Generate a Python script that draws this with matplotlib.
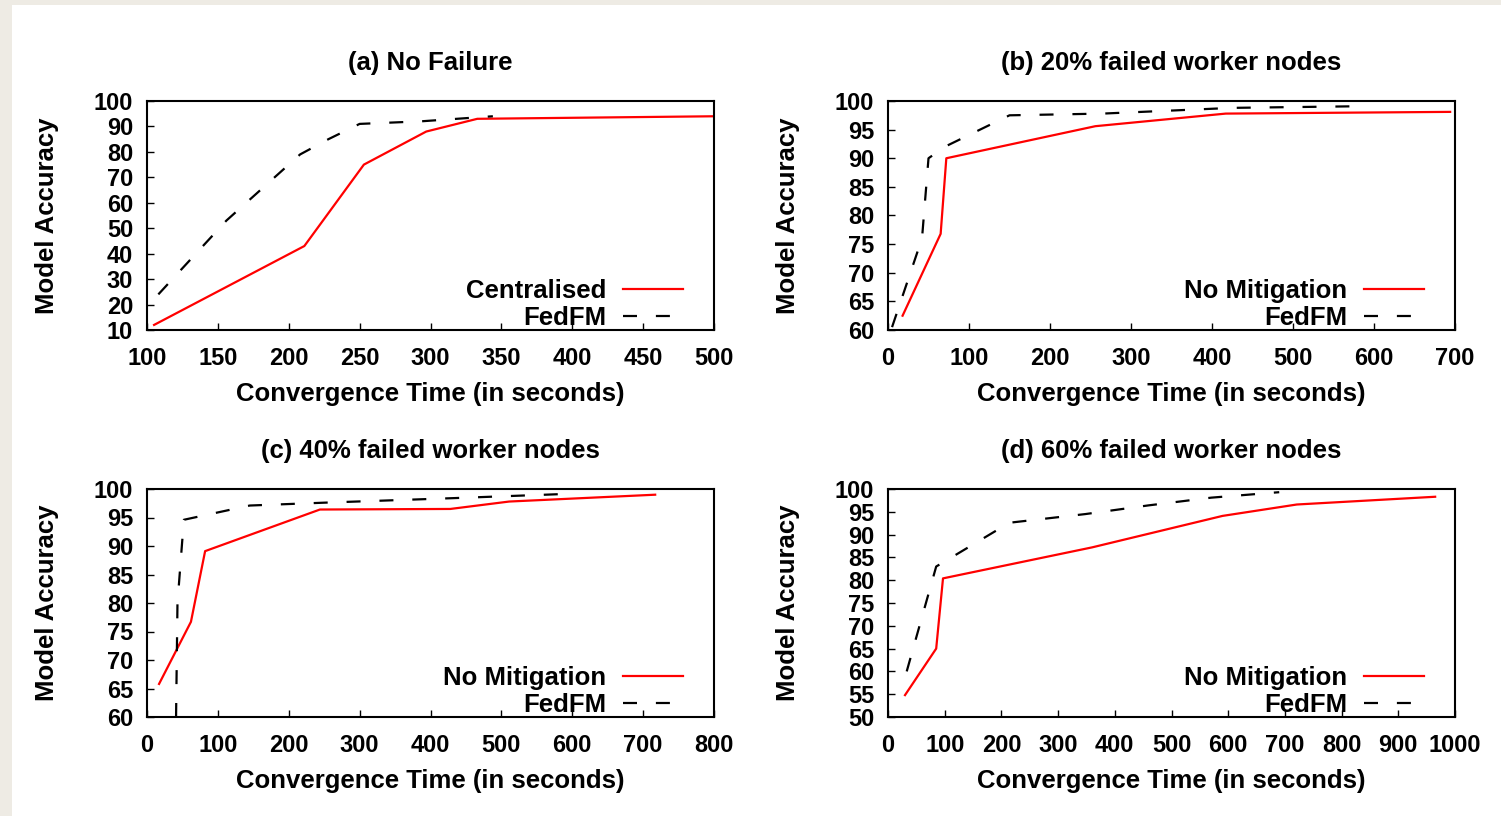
import matplotlib
matplotlib.use("Agg")
import matplotlib.pyplot as plt
from matplotlib.patches import Rectangle

plt.rcParams['font.family'] = ['Liberation Sans', 'DejaVu Sans']
plt.rcParams['font.weight'] = 'bold'

# ---- data ----
titles = ["(a) No Failure", "(b) 20% failed worker nodes",
          "(c) 40% failed worker nodes", "(d) 60% failed worker nodes"]
red_labels = ["Centralised", "No Mitigation", "No Mitigation", "No Mitigation"]
black_label = "FedFM"

a_red_x = [105, 211, 253, 297, 333, 500]
a_red_y = [12, 43, 75, 88, 93, 94]
a_blk_x = [108, 156, 208, 228, 250, 293, 344]
a_blk_y = [24, 53, 79, 85, 91, 92, 94]

b_red_x = [18, 65, 72, 256, 417, 694]
b_red_y = [62.5, 76.8, 90, 95.6, 97.8, 98.1]
b_blk_x = [5, 42, 50, 70, 150, 265, 425, 590]
b_blk_y = [60.5, 76, 90, 92, 97.5, 97.8, 98.8, 99.1]

c_red_x = [17, 62, 82, 244, 428, 511, 717]
c_red_y = [65.8, 76.7, 89.1, 96.4, 96.5, 97.8, 99]
c_blk_x = [41, 43, 52, 145, 250, 433, 605]
c_blk_y = [60, 80, 94.6, 97.1, 97.6, 98.4, 99.2]

d_red_x = [30, 85, 97, 360, 590, 721, 965]
d_red_y = [54.8, 65, 80.4, 87.2, 94.1, 96.6, 98.3]
d_blk_x = [33, 85, 116, 214, 348, 459, 570, 690]
d_blk_y = [60, 83, 85.3, 92.6, 94.5, 96.4, 98.1, 99.3]

xlims = [(100, 500), (0, 700), (0, 800), (0, 1000)]
xsteps = [50, 100, 100, 100]
ylims = [(10, 100), (60, 100), (60, 100), (50, 100)]
ysteps = [10, 5, 5, 5]

series = [(a_red_x, a_red_y, a_blk_x, a_blk_y),
          (b_red_x, b_red_y, b_blk_x, b_blk_y),
          (c_red_x, c_red_y, c_blk_x, c_blk_y),
          (d_red_x, d_red_y, d_blk_x, d_blk_y)]

W, H = 1501, 816
fig = plt.figure(figsize=(W / 100, H / 100), dpi=100)
fig.patch.set_facecolor('#eeebe4')
fig.patches.append(Rectangle((12 / W, 0), 1, 1 - 5 / H, transform=fig.transFigure,
                             facecolor='white', edgecolor='none', zorder=-10))

boxes = [(147, 101, 714, 330), (888, 101, 1455, 330),
         (147, 489, 714, 717), (888, 489, 1455, 717)]

TICK_FS = 17
LAB_FS = 18.5
for i, (l, t, r, b) in enumerate(boxes):
    ax = fig.add_axes([l / W, 1 - b / H, (r - l) / W, (b - t) / H])
    rx, ry, bx, by = series[i]
    ax.plot(rx, ry, color='#ff0000', lw=1.6, label=red_labels[i])
    ax.plot(bx, by, color='black', lw=1.6, dashes=(6.3, 8.5), label=black_label)
    ax.set_xlim(*xlims[i])
    ax.set_ylim(*ylims[i])
    x0, x1 = xlims[i]
    ax.set_xticks(list(range(x0, x1 + 1, xsteps[i])))
    y0, y1 = ylims[i]
    ax.set_yticks(list(range(y0, y1 + 1, ysteps[i])))
    ax.tick_params(direction='in', length=5, width=1, labelsize=TICK_FS)
    ax.tick_params(axis='x', pad=12.5)
    ax.tick_params(axis='y', pad=10)
    for s in ax.spines.values():
        s.set_linewidth(1.5)
    ax.set_title(titles[i], fontsize=LAB_FS, fontweight='bold', pad=22)
    ax.set_xlabel("Convergence Time (in seconds)", fontsize=LAB_FS, fontweight='bold', labelpad=8.5)
    ax.set_ylabel("Model Accuracy", fontsize=LAB_FS, fontweight='bold', labelpad=25)
    ax.legend(loc='lower right', bbox_to_anchor=(0.945, 0.0), frameon=False,
              markerfirst=False, fontsize=LAB_FS,
              handlelength=2.33, handletextpad=0.65, labelspacing=0.12,
              borderaxespad=0.0, borderpad=0.0)

fig.savefig("out.png", dpi=100, facecolor=fig.get_facecolor())
